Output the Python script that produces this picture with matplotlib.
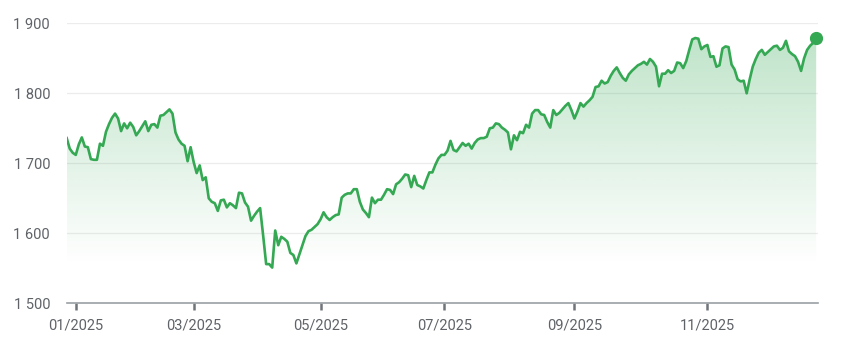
import numpy as np
import pandas as pd
import matplotlib
matplotlib.use("Agg")
import matplotlib.pyplot as plt
from matplotlib.ticker import FuncFormatter, FixedLocator

# ---- data (daily closes) ----
start_date = "2024-12-27"
holidays = ["2025-01-01", "2025-01-09", "2025-01-20", "2025-02-17", "2025-04-18",
            "2025-05-26", "2025-06-19", "2025-07-04", "2025-09-01", "2025-11-27",
            "2025-12-25"]
values = [
    1736, 1721, 1715, 1712, 1727, 1737, 1724, 1723, 1706, 1705,
    1705, 1728, 1725, 1745, 1756, 1765, 1771, 1764, 1746, 1757,
    1750, 1758, 1752, 1740, 1746, 1753, 1760, 1746, 1755, 1756,
    1751, 1768, 1769, 1773, 1777, 1771, 1744, 1734, 1728, 1725,
    1703, 1723, 1702, 1686, 1697, 1676, 1680, 1650, 1645, 1643,
    1632, 1647, 1648, 1637, 1643, 1640, 1636, 1658, 1657, 1644,
    1638, 1618, 1625, 1631, 1636, 1597, 1556, 1556, 1551, 1604,
    1583, 1595, 1592, 1588, 1572, 1569, 1557, 1570, 1583, 1596,
    1603, 1605, 1609, 1613, 1620, 1630, 1623, 1619, 1623, 1626,
    1627, 1651, 1655, 1657, 1657, 1663, 1663, 1645, 1634, 1629,
    1623, 1651, 1643, 1648, 1648, 1655, 1663, 1662, 1656, 1670,
    1673, 1678, 1684, 1683, 1666, 1682, 1669, 1667, 1664, 1676,
    1687, 1687, 1698, 1707, 1712, 1712, 1718, 1732, 1719, 1717,
    1723, 1729, 1725, 1728, 1721, 1729, 1734, 1736, 1736, 1738,
    1750, 1751, 1757, 1756, 1751, 1748, 1744, 1720, 1740, 1733,
    1745, 1743, 1755, 1751, 1771, 1776, 1776, 1770, 1769, 1759,
    1751, 1776, 1769, 1772, 1777, 1782, 1786, 1776, 1764, 1774,
    1786, 1781, 1786, 1790, 1795, 1809, 1810, 1818, 1814, 1816,
    1825, 1832, 1837, 1829, 1822, 1818, 1827, 1832, 1836, 1840,
    1842, 1845, 1841, 1849, 1845, 1838, 1810, 1828, 1828, 1833,
    1829, 1832, 1844, 1843, 1836, 1846, 1862, 1877, 1879, 1878,
    1863, 1867, 1869, 1852, 1853, 1838, 1840, 1864, 1867, 1866,
    1841, 1834, 1820, 1817, 1818, 1800, 1820, 1838, 1849, 1858,
    1862, 1855, 1859, 1863, 1867, 1868, 1862, 1865, 1875, 1860,
    1856, 1853, 1845, 1832, 1850, 1862, 1868, 1872, 1879,
]
tick_months = [1, 3, 5, 7, 9, 11]
y_ticks = [1500, 1600, 1700, 1800, 1900]

# ---- style ----
GREEN = "#34a853"
TEXT = "#5f6368"
GRID = "#ececec"
AXIS = "#9aa0a6"
plt.rcParams["font.family"] = ["Roboto", "DejaVu Sans"]

cbd = pd.offsets.CustomBusinessDay(holidays=holidays)
dates = pd.date_range(start_date, periods=len(values), freq=cbd)
x = np.arange(len(values))
y = np.array(values, dtype=float)

tick_pos, tick_lab = [], []
for m in tick_months:
    idx = np.where((dates.year == 2025) & (dates.month == m))[0]
    if len(idx):
        tick_pos.append(idx[0])
        tick_lab.append(f"{m:02d}/2025")

fig = plt.figure(figsize=(8.5, 3.56), dpi=100)
ax = fig.add_axes([66.7 / 850, 52.7 / 356, 751 / 850, 280 / 356])

ymin, ymax = 1500, 1900
ax.set_xlim(0, len(values) - 0.5)
ax.set_ylim(ymin, ymax)

# gradient fill
poly = ax.fill_between(x, y, ymin, facecolor="none", edgecolor="none")
g_top, g_bot = 1880, 1555
ny = 300
yy = np.linspace(ymax, ymin, ny)
alpha = np.clip((yy - g_bot) / (g_top - g_bot), 0, 1) * 0.31
rgba = np.zeros((ny, 1, 4))
rgba[..., 0] = 52 / 255
rgba[..., 1] = 168 / 255
rgba[..., 2] = 83 / 255
rgba[:, 0, 3] = alpha
im = ax.imshow(rgba, extent=[0, len(values) - 0.5, ymin, ymax], aspect="auto",
               origin="upper", zorder=1, interpolation="bilinear")
im.set_clip_path(poly.get_paths()[0], transform=ax.transData)

ax.plot(x, y, color=GREEN, lw=1.9, zorder=3, solid_joinstyle="round")
ax.plot(x[-1], y[-1], "o", color=GREEN, ms=8.5, zorder=4, clip_on=False)

# grid & spines
for v in y_ticks[1:]:
    ax.axhline(v, color=GRID, lw=0.9, zorder=0)
for s in ["top", "right", "left"]:
    ax.spines[s].set_visible(False)
ax.spines["bottom"].set_color(AXIS)
ax.spines["bottom"].set_linewidth(1.2)
ax.spines["bottom"].set_zorder(5)

ax.yaxis.set_major_locator(FixedLocator(y_ticks))
ax.yaxis.set_major_formatter(FuncFormatter(lambda v, p: f"{int(v):,}".replace(",", " ")))
ax.tick_params(axis="y", length=0, pad=12, labelsize=10.5, labelcolor=TEXT)

ax.set_xticks(tick_pos)
ax.set_xticklabels(tick_lab)
ax.tick_params(axis="x", length=5, width=1.8, color="#70757a", pad=6,
               labelsize=10.5, labelcolor=TEXT)

fig.savefig("out.png", dpi=100, facecolor="white")
